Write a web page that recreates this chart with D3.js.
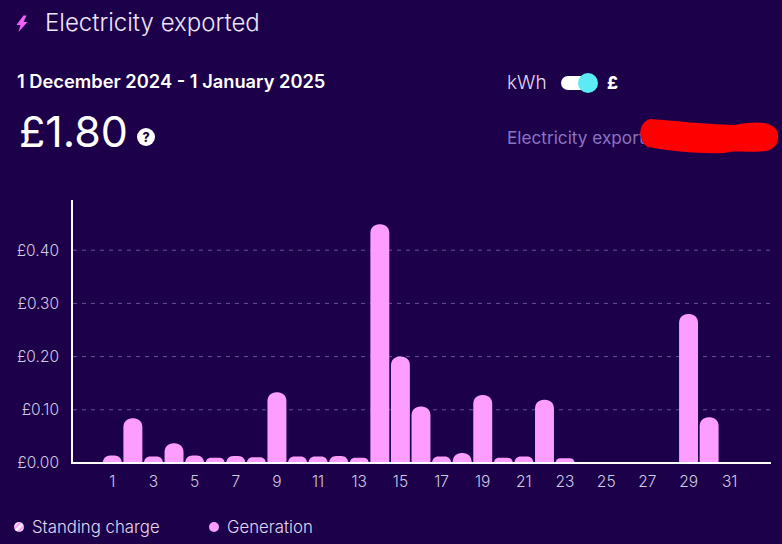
<!DOCTYPE html>
<html><head><meta charset="utf-8">
<script src="https://cdn.jsdelivr.net/npm/d3@7"></script>
<style>
html,body{margin:0;padding:0;background:#1c0049;}
svg{display:block;font-family:Inter,sans-serif;}
</style></head><body><svg id="c" width="782" height="544"></svg>
<script>
const days = d3.range(1,32).map(String);
const generation = [.014,.084,.012,.037,.014,.010,.013,.011,.133,.012,.012,.013,.010,.449,.200,.106,.012,.019,.128,.010,.012,.119,.009,0,0,0,0,0,.280,.086,0];
const yTicks = [0,.1,.2,.3,.4];
const xTickLabels = days.filter((d,i)=>i%2===0);
const legendLabels = ["Standing charge","Generation"];

const svg = d3.select("#c");
const bg="#1c0049", pink="#fc9dff", white="#ffffff", lav="#e2daf2", tick="#d2cae4";
svg.append("rect").attr("width",782).attr("height",544).attr("fill",bg);

const x = d3.scaleBand().domain(days).range([102,740]).paddingInner(0.08).paddingOuter(0.04);
const y = d3.scaleLinear().domain([0,.5]).range([463,197]);

const T=(xx,yy,s,size,fill,w)=>svg.append("text").attr("x",xx).attr("y",yy).attr("font-size",size).attr("fill",fill).attr("font-weight",w||400).text(s);
svg.append("path").attr("d","M23.5 15.5 L16.5 25 H20.5 L18.5 32 L27.5 22 H23.5 L26.5 15.5 Z").attr("fill","#f060fa");
T(45,31,"Electricity exported",24,"#efe6fb",300);
T(17,88,"1 December 2024 - 1 January 2025",18.3,white,600);
T(19,147,"£1.80",43,white,400);
svg.append("circle").attr("cx",146).attr("cy",137).attr("r",9).attr("fill",white);
T(146,141.5,"?",12.5,bg,800).attr("text-anchor","middle");
T(507,89,"kWh",19,lav,300);
svg.append("rect").attr("x",561).attr("y",76).attr("width",26).attr("height",14).attr("rx",7).attr("fill",white);
svg.append("circle").attr("cx",588).attr("cy",83).attr("r",10).attr("fill","#5cebf5");
T(607,89,"£",17,white,800);
T(507,144,"Electricity export",17.2,"#8b73c4",400);
svg.append("path").attr("d","M650 119 C680 121 700 124 735 125 C750 122 768 120 776 129 C781 138 777 149 766 151 C745 153 735 150 725 153 C700 154 670 151 648 147 C638 142 637 123 650 119 Z").attr("fill","#ff0000");

svg.append("g").selectAll("line").data(yTicks.slice(1)).join("line")
 .attr("x1",73).attr("x2",771).attr("y1",d=>y(d)).attr("y2",d=>y(d))
 .attr("stroke","#6a4f96").attr("stroke-width",1).attr("stroke-dasharray","4 5");

svg.append("g").selectAll("path").data(days.map((d,i)=>({d,v:generation[i]})).filter(o=>o.v>0)).join("path")
 .attr("fill",pink)
 .attr("d",o=>{
   const x0=x(o.d), w=x.bandwidth(), y0=y(0), yt=y(o.v);
   const r=Math.min(9,y0-yt);
   return `M${x0} ${y0}V${yt+r}C${x0} ${yt+r*.4} ${x0+r*.4} ${yt} ${x0+r} ${yt}H${x0+w-r}C${x0+w-r*.4} ${yt} ${x0+w} ${yt+r*.4} ${x0+w} ${yt+r}V${y0}Z`;
 });

const yAxis = d3.axisLeft(y).tickValues(yTicks).tickSize(0).tickPadding(13).tickFormat(d=>"£"+d.toFixed(2));
const gy = svg.append("g").attr("transform","translate(72,0)").call(yAxis);
gy.select(".domain").remove();
gy.selectAll("text").attr("font-family","Inter,sans-serif").attr("font-size",15.5).attr("font-weight",300).attr("fill",tick);
const xAxis = d3.axisBottom(x).tickValues(xTickLabels).tickSize(0).tickPadding(13);
const gx = svg.append("g").attr("transform","translate(0,463)").call(xAxis);
gx.select(".domain").remove();
gx.selectAll("text").attr("font-family","Inter,sans-serif").attr("font-size",15.5).attr("font-weight",300).attr("fill",tick);
svg.append("line").attr("x1",72).attr("x2",72).attr("y1",200).attr("y2",464).attr("stroke",white).attr("stroke-width",2);
svg.append("line").attr("x1",71).attr("x2",771).attr("y1",463).attr("y2",463).attr("stroke",white).attr("stroke-width",2);

const defs=svg.append("defs");
const pat=defs.append("pattern").attr("id","st").attr("width",5).attr("height",5).attr("patternUnits","userSpaceOnUse").attr("patternTransform","rotate(-45)");
pat.append("rect").attr("width",5).attr("height",5).attr("fill",pink);
pat.append("rect").attr("width",5).attr("height",2.5).attr("fill",white);
svg.append("circle").attr("cx",19).attr("cy",527).attr("r",5).attr("fill","url(#st)");
svg.append("circle").attr("cx",214).attr("cy",527).attr("r",5).attr("fill",pink);
T(32,533,legendLabels[0],16.8,lav,300);
T(227,533,legendLabels[1],16.8,lav,300);
</script></body></html>
